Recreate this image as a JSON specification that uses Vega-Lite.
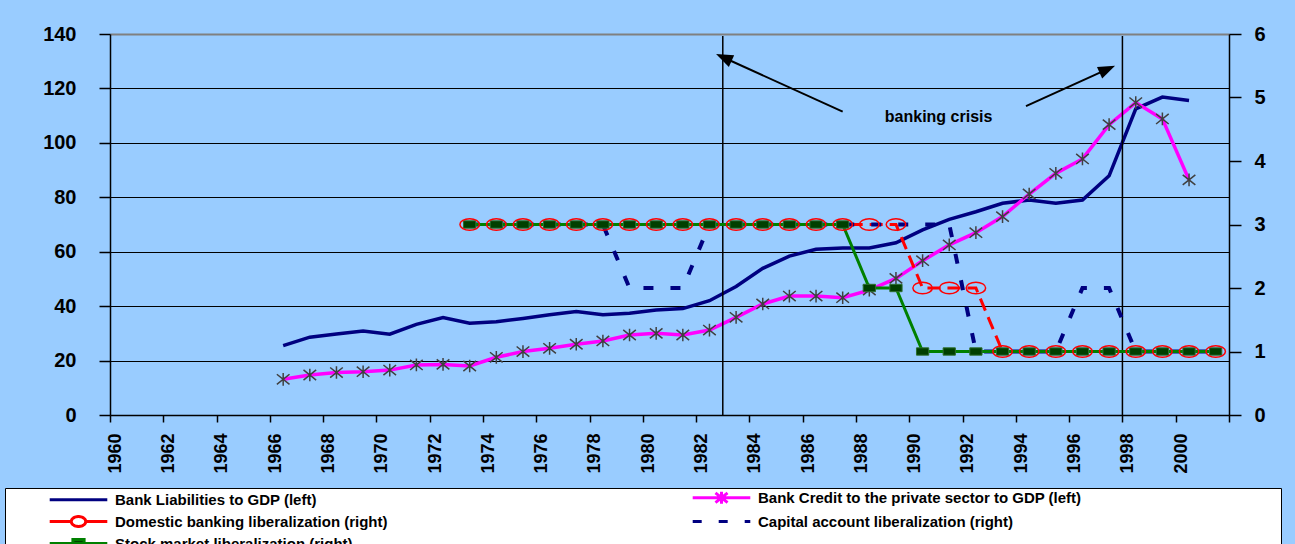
{
 "$schema": "https://vega.github.io/schema/vega-lite/v6.json",
 "width": 1119,
 "height": 381,
 "autosize": {"type": "none"},
 "padding": {"left": 110, "top": 34, "right": 66, "bottom": 129},
 "background": "#99ccff",
 "config": {"view": {"stroke": null}, "font": "Liberation Sans"},
 "datasets": {
  "left": [
   {"year": 1966, "liab": 25.5, "credit": 13.1},
   {"year": 1967, "liab": 28.6, "credit": 14.7},
   {"year": 1968, "liab": 29.8, "credit": 15.6},
   {"year": 1969, "liab": 30.9, "credit": 15.9},
   {"year": 1970, "liab": 29.7, "credit": 16.5},
   {"year": 1971, "liab": 33.3, "credit": 18.4},
   {"year": 1972, "liab": 35.8, "credit": 18.6},
   {"year": 1973, "liab": 33.7, "credit": 18.0},
   {"year": 1974, "liab": 34.3, "credit": 21.2},
   {"year": 1975, "liab": 35.5, "credit": 23.3},
   {"year": 1976, "liab": 36.8, "credit": 24.5},
   {"year": 1977, "liab": 38.0, "credit": 26.0},
   {"year": 1978, "liab": 36.8, "credit": 27.2},
   {"year": 1979, "liab": 37.4, "credit": 29.4},
   {"year": 1980, "liab": 38.6, "credit": 30.0},
   {"year": 1981, "liab": 39.1, "credit": 29.4},
   {"year": 1982, "liab": 42.0, "credit": 31.2},
   {"year": 1983, "liab": 47.2, "credit": 35.9},
   {"year": 1984, "liab": 53.9, "credit": 40.8},
   {"year": 1985, "liab": 58.4, "credit": 43.7},
   {"year": 1986, "liab": 60.9, "credit": 43.7},
   {"year": 1987, "liab": 61.4, "credit": 43.1},
   {"year": 1988, "liab": 61.4, "credit": 45.9},
   {"year": 1989, "liab": 63.3, "credit": 50.2},
   {"year": 1990, "liab": 68.0, "credit": 56.7},
   {"year": 1991, "liab": 71.9, "credit": 62.5},
   {"year": 1992, "liab": 74.7, "credit": 67.0},
   {"year": 1993, "liab": 77.8, "credit": 72.9},
   {"year": 1994, "liab": 79.0, "credit": 81.2},
   {"year": 1995, "liab": 77.8, "credit": 88.8},
   {"year": 1996, "liab": 79.0, "credit": 94.1},
   {"year": 1997, "liab": 87.9, "credit": 106.7},
   {"year": 1998, "liab": 112.5, "credit": 114.8},
   {"year": 1999, "liab": 116.8, "credit": 108.8},
   {"year": 2000, "liab": 115.6, "credit": 86.4}
  ],
  "right": [
   {"year": 1973, "dom": 3, "cap": 3, "stock": 3},
   {"year": 1974, "dom": 3, "cap": 3, "stock": 3},
   {"year": 1975, "dom": 3, "cap": 3, "stock": 3},
   {"year": 1976, "dom": 3, "cap": 3, "stock": 3},
   {"year": 1977, "dom": 3, "cap": 3, "stock": 3},
   {"year": 1978, "dom": 3, "cap": 3, "stock": 3},
   {"year": 1979, "dom": 3, "cap": 2, "stock": 3},
   {"year": 1980, "dom": 3, "cap": 2, "stock": 3},
   {"year": 1981, "dom": 3, "cap": 2, "stock": 3},
   {"year": 1982, "dom": 3, "cap": 3, "stock": 3},
   {"year": 1983, "dom": 3, "cap": 3, "stock": 3},
   {"year": 1984, "dom": 3, "cap": 3, "stock": 3},
   {"year": 1985, "dom": 3, "cap": 3, "stock": 3},
   {"year": 1986, "dom": 3, "cap": 3, "stock": 3},
   {"year": 1987, "dom": 3, "cap": 3, "stock": 3},
   {"year": 1988, "dom": 3, "cap": 3, "stock": 2},
   {"year": 1989, "dom": 3, "cap": 3, "stock": 2},
   {"year": 1990, "dom": 2, "cap": 3, "stock": 1},
   {"year": 1991, "dom": 2, "cap": 3, "stock": 1},
   {"year": 1992, "dom": 2, "cap": 1, "stock": 1},
   {"year": 1993, "dom": 1, "cap": 1, "stock": 1},
   {"year": 1994, "dom": 1, "cap": 1, "stock": 1},
   {"year": 1995, "dom": 1, "cap": 1, "stock": 1},
   {"year": 1996, "dom": 1, "cap": 2, "stock": 1},
   {"year": 1997, "dom": 1, "cap": 2, "stock": 1},
   {"year": 1998, "dom": 1, "cap": 1, "stock": 1},
   {"year": 1999, "dom": 1, "cap": 1, "stock": 1},
   {"year": 2000, "dom": 1, "cap": 1, "stock": 1},
   {"year": 2001, "dom": 1, "cap": 1, "stock": 1}
  ]
 },
 "layer": [
  {
   "data": {"name": "left"},
   "layer": [
    {
     "mark": {"type": "line", "strokeWidth": 3.5},
     "encoding": {
      "x": {"field": "year", "type": "quantitative", "scale": {"domain": [1959.5, 2001.5], "nice": false, "zero": false},
       "axis": {"orient": "bottom", "values": [1960, 1962, 1964, 1966, 1968, 1970, 1972, 1974, 1976, 1978, 1980, 1982, 1984, 1986, 1988, 1990, 1992, 1994, 1996, 1998, 2000],
        "format": "d", "ticks": false, "tickSize": 0, "domain": false, "grid": false, "labelAngle": 270, "labelPadding": 18, "labelOffset": -8,
        "labelFont": "Liberation Sans", "labelFontSize": 18, "labelFontWeight": "bold", "labelColor": "black", "labelFlush": false, "labelOverlap": false, "title": null}},
      "y": {"field": "liab", "type": "quantitative", "scale": {"domain": [0, 140], "nice": false, "zero": false},
       "axis": {"orient": "left", "values": [0, 20, 40, 60, 80, 100, 120, 140], "format": "d", "grid": true,
        "gridColor": {"condition": {"test": "datum.value == 140", "value": "#808080"}, "value": "black"},
        "gridWidth": {"condition": {"test": "datum.value == 140", "value": 2}, "value": 1},
        "domainColor": "black", "domainWidth": 1.5, "tickColor": "black", "tickWidth": 1.5, "tickSize": 11, "labelPadding": 23,
        "labelFont": "Liberation Sans", "labelFontSize": 20, "labelFontWeight": "bold", "labelColor": "black", "labelFlush": false, "title": null}},
      "color": {"datum": "Bank Liabilities to GDP (left)", "type": "nominal",
       "scale": {"domain": ["Bank Liabilities to GDP (left)", "Bank Credit to the private sector to GDP (left)", "Domestic banking liberalization (right)", "Capital account liberalization (right)", "Stock market liberalization (right)"],
        "range": ["#000080", "#ff00ff", "#ff0000", "#000080", "#008000"]},
       "legend": {"orient": "none", "legendX": -105, "legendY": 454, "direction": "horizontal", "columns": 2,
        "title": " ", "titleOrient": "right", "titlePadding": 200, "titleFontSize": 4,
        "fillColor": "white", "strokeColor": "black", "padding": 0,
        "labelFont": "Liberation Sans", "labelFontSize": 15, "labelFontWeight": "bold", "labelColor": "black", "labelLimit": 1000,
        "symbolSize": 256, "symbolStrokeWidth": 3, "symbolOffset": 64, "labelOffset": 27, "rowPadding": 0, "columnPadding": 260, "symbolOpacity": 1,
        "symbolType": {"expr": "['M-3.6,0L3.6,0','M-3.6,0L3.6,0M-0.75,-0.6L0.75,0.6M-0.75,0.6L0.75,-0.6M0,-0.75L0,0.75','M-3.6,0L-0.9,0M0.9,0L3.6,0M0.9,0A0.9,0.62 0 1 1 -0.9,0A0.9,0.62 0 1 1 0.9,0Z','M-3.6,0L3.6,0','M-3.6,0L3.6,0M-0.7,-0.5L0.7,-0.5L0.7,0.5L-0.7,0.5Z'][datum.index]"},
        "symbolDash": {"expr": "datum.index === 3 ? [9, 17] : [1, 0]"},
        "symbolFillColor": {"expr": "datum.index === 4 ? '#004000' : (datum.index === 2 ? 'white' : 'transparent')"}}}
     }
    },
    {
     "mark": {"type": "line", "strokeWidth": 3.5},
     "encoding": {
      "x": {"field": "year", "type": "quantitative"},
      "y": {"field": "credit", "type": "quantitative"},
      "color": {"datum": "Bank Credit to the private sector to GDP (left)", "type": "nominal"}
     }
    },
    {
     "mark": {"type": "point", "shape": "M-1,-0.8L1,0.8M-1,0.8L1,-0.8M0,-1L0,1", "filled": false, "stroke": "#404040", "strokeWidth": 1.5, "size": 160, "opacity": 1},
     "encoding": {
      "x": {"field": "year", "type": "quantitative"},
      "y": {"field": "credit", "type": "quantitative"}
     }
    },
    {
     "data": {"values": [{"year": 1982.5}, {"year": 1997.5}]},
     "mark": {"type": "rule", "stroke": "black", "strokeWidth": 1.5},
     "encoding": {
      "x": {"field": "year", "type": "quantitative"},
      "y": {"datum": 0, "type": "quantitative"},
      "y2": {"datum": 139.3}
     }
    },
    {
     "data": {"values": [{"x": 1987.0, "y": 111.45, "x2": 1982.61, "y2": 131.0}, {"x": 1993.88, "y": 113.5, "x2": 1996.86, "y2": 126.7}]},
     "mark": {"type": "rule", "stroke": "black", "strokeWidth": 2},
     "encoding": {
      "x": {"field": "x", "type": "quantitative"},
      "x2": {"field": "x2"},
      "y": {"field": "y", "type": "quantitative"},
      "y2": {"field": "y2"}
     }
    },
    {
     "data": {"values": [{"x": 1982.61, "y": 131.0}]},
     "mark": {"type": "point", "shape": "M0,-1L0.6,0.6L-0.6,0.6Z", "filled": true, "fill": "black", "strokeWidth": 0, "size": 450, "angle": 294.5, "opacity": 1},
     "encoding": {
      "x": {"field": "x", "type": "quantitative"},
      "y": {"field": "y", "type": "quantitative"}
     }
    },
    {
     "data": {"values": [{"x": 1996.86, "y": 126.7}]},
     "mark": {"type": "point", "shape": "M0,-1L0.6,0.6L-0.6,0.6Z", "filled": true, "fill": "black", "strokeWidth": 0, "size": 450, "angle": 65.8, "opacity": 1},
     "encoding": {
      "x": {"field": "x", "type": "quantitative"},
      "y": {"field": "y", "type": "quantitative"}
     }
    },
    {
     "data": {"values": [{"x": 1990.6, "y": 107.8, "label": "banking crisis"}]},
     "mark": {"type": "text", "font": "Liberation Sans", "fontSize": 16, "fontWeight": "bold", "align": "center", "baseline": "alphabetic", "color": "black"},
     "encoding": {
      "x": {"field": "x", "type": "quantitative"},
      "y": {"field": "y", "type": "quantitative"},
      "text": {"field": "label"}
     }
    }
   ]
  },
  {
   "data": {"name": "right"},
   "layer": [
    {
     "mark": {"type": "line", "strokeWidth": 3, "strokeDash": [13, 7]},
     "encoding": {
      "x": {"field": "year", "type": "quantitative", "scale": {"domain": [1959.5, 2001.5], "nice": false, "zero": false},
       "axis": {"orient": "bottom", "values": [1959.5, 1960.5, 1961.5, 1962.5, 1963.5, 1964.5, 1965.5, 1966.5, 1967.5, 1968.5, 1969.5, 1970.5, 1971.5, 1972.5, 1973.5, 1974.5, 1975.5, 1976.5, 1977.5, 1978.5, 1979.5, 1980.5, 1981.5, 1982.5, 1983.5, 1984.5, 1985.5, 1986.5, 1987.5, 1988.5, 1989.5, 1990.5, 1991.5, 1992.5, 1993.5, 1994.5, 1995.5, 1996.5, 1997.5, 1998.5, 1999.5, 2000.5, 2001.5],
        "labels": false, "ticks": true, "tickSize": 7, "tickColor": "black", "tickWidth": 1.5, "domain": true, "domainColor": "black", "domainWidth": 1.5, "grid": false, "title": null}},
      "y": {"field": "dom", "type": "quantitative", "scale": {"domain": [0, 6], "nice": false, "zero": false},
       "axis": {"orient": "right", "values": [0, 1, 2, 3, 4, 5, 6], "format": "d", "grid": false, "domainColor": "black", "domainWidth": 1.5, "tickColor": "black", "tickWidth": 1.5, "tickSize": 12, "labelPadding": 13,
        "labelFont": "Liberation Sans", "labelFontSize": 20, "labelFontWeight": "bold", "labelColor": "black", "labelFlush": false, "title": null}},
      "color": {"datum": "Domestic banking liberalization (right)", "type": "nominal"}
     }
    },
    {
     "mark": {"type": "line", "strokeWidth": 4, "strokeDash": [10, 17]},
     "encoding": {
      "x": {"field": "year", "type": "quantitative"},
      "y": {"field": "cap", "type": "quantitative"},
      "color": {"datum": "Capital account liberalization (right)", "type": "nominal"}
     }
    },
    {
     "mark": {"type": "line", "strokeWidth": 3},
     "encoding": {
      "x": {"field": "year", "type": "quantitative"},
      "y": {"field": "stock", "type": "quantitative"},
      "color": {"datum": "Stock market liberalization (right)", "type": "nominal"}
     }
    },
    {
     "mark": {"type": "point", "shape": "M-1,-0.6L1,-0.6L1,0.6L-1,0.6Z", "filled": true, "fill": "#003f00", "stroke": "#2d6e2d", "strokeWidth": 1, "size": 150, "opacity": 1},
     "encoding": {
      "x": {"field": "year", "type": "quantitative"},
      "y": {"field": "stock", "type": "quantitative"}
     }
    },
    {
     "mark": {"type": "point", "shape": "M-1,0A1,0.6 0 1 1 1,0A1,0.6 0 1 1 -1,0Z", "filled": false, "stroke": "#ff0000", "strokeWidth": 1.5, "size": 380, "opacity": 1},
     "encoding": {
      "x": {"field": "year", "type": "quantitative"},
      "y": {"field": "dom", "type": "quantitative"}
     }
    }
   ]
  }
 ],
 "resolve": {"scale": {"y": "independent"}, "axis": {"x": "independent"}}
}
